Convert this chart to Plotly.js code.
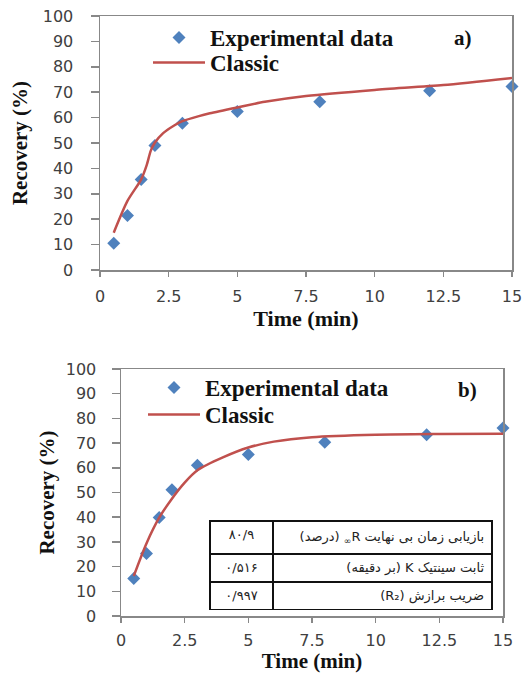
<!DOCTYPE html>
<html>
<head>
<meta charset="utf-8">
<script src="https://cdn.plot.ly/plotly-3.0.1.min.js"></script>
<style>html,body{margin:0;padding:0;background:#fff;}#chart{width:525px;height:673px;}</style>
</head>
<body>
<div id="chart"></div>
<script>
// ---- data (a) ----
const timeA = [0.5, 1, 1.5, 2, 3, 5, 8, 12, 15];
const recA = [10.5, 21.5, 35.6, 49, 57.8, 62.4, 66.2, 70.6, 72.2];
const fitTimeA = [0.5, 1, 1.5, 1.7, 1.85, 2, 2.3, 2.7, 3, 3.6, 4, 5, 6, 7.5, 10, 12.5, 15];
const fitA = [14.7, 27.2, 35.7, 41.3, 47.0, 50.2, 53.9, 56.9, 58.6, 60.6, 61.7, 64, 66.2, 68.5, 70.9, 72.8, 75.6];
// ---- data (b) ----
const timeB = [0.5, 1, 1.5, 2, 3, 5, 8, 12, 15];
const recB = [15.2, 25.3, 39.9, 51.1, 61, 65.4, 70.3, 73.4, 76.1];
const fitTimeB = [0.5, 1, 1.5, 2, 2.5, 3, 4, 5, 6, 7.5, 10, 12.5, 15];
const fitB = [16.2, 29.4, 39.8, 47.5, 54, 59, 64.2, 68.2, 70.6, 72.4, 73.4, 73.7, 73.8];
// ---- labels ----
const seriesNames = ['Experimental data', 'Classic'];
const panelLabels = ['a)', 'b)'];
const xTitle = 'Time (min)';
const yTitle = 'Recovery (%)';
// ---- table (b) ----
const RLE = '\u202B', PDF = '\u202C';
const tableLabels = [
  RLE + 'بازیابی زمان بی نهایت R<sub>∞</sub> (درصد)' + PDF,
  RLE + 'ثابت سینتیک K (بر دقیقه)' + PDF,
  RLE + 'ضریب برازش (R₂)' + PDF
];
const tableValues = ['۸۰/۹', '۰/۵۱۶', '۰/۹۹۷'];

const W = 525, H = 673;
const px = v => v / W, py = v => (H - v) / H;

const blue = '#4F81BD', red = '#C0504D';
const serif = '"Liberation Serif", "Times New Roman", Times, "DejaVu Serif", serif';
const titleFont = {family: serif, size: 22, color: '#111', weight: 'bold'};
const titleFont2 = {family: serif, size: 21, color: '#111', weight: 'bold'};
const yTitleFont = {family: serif, size: 21, color: '#111', weight: 'bold'};
const tickFont = {family: '"DejaVu Sans", Verdana, sans-serif', size: 16, color: '#404040'};
const legendFont = {family: serif, size: 23, color: '#111', weight: 'bold'};
const tableFont = {family: '"DejaVu Sans", sans-serif', size: 13, color: '#222'};

const traces = [
  {x: timeA, y: recA, type: 'scatter', mode: 'markers', name: seriesNames[0], cliponaxis: false,
   marker: {symbol: 'diamond', size: 10, color: blue}, xaxis: 'x', yaxis: 'y', legend: 'legend'},
  {x: fitTimeA, y: fitA, type: 'scatter', mode: 'lines', name: seriesNames[1], cliponaxis: false,
   line: {color: red, width: 2.5, shape: 'spline', smoothing: 0.7}, xaxis: 'x', yaxis: 'y', legend: 'legend2'},
  {x: timeB, y: recB, type: 'scatter', mode: 'markers', name: seriesNames[0], cliponaxis: false,
   marker: {symbol: 'diamond', size: 10, color: blue}, xaxis: 'x2', yaxis: 'y2', legend: 'legend3'},
  {x: fitTimeB, y: fitB, type: 'scatter', mode: 'lines', name: seriesNames[1], cliponaxis: false,
   line: {color: red, width: 2.5, shape: 'spline', smoothing: 0.8}, xaxis: 'x2', yaxis: 'y2', legend: 'legend4'},
  {type: 'table',
   domain: {x: [px(210), px(492)], y: [py(610), py(521)]},
   columnwidth: [63, 219],
   header: {values: [tableValues[0], tableLabels[0]], height: 33, align: ['center', 'right'],
            line: {color: '#111', width: 1.5}, fill: {color: '#fff'}, font: tableFont},
   cells: {values: [tableValues.slice(1), tableLabels.slice(1)], height: 28, align: ['center', 'right'],
           line: {color: '#111', width: 1.5}, fill: {color: '#fff'}, font: tableFont}
  }
];

function xax(domain, standoff, labelGap, tfont) {
  return {domain: domain, range: [0, 15], tick0: 0, dtick: 2.5, ticks: 'outside', ticklen: 5,
    tickcolor: '#888', tickwidth: 1.5, linecolor: '#888', linewidth: 1.5, mirror: true,
    showgrid: false, zeroline: false, tickfont: tickFont, ticklabelstandoff: labelGap, fixedrange: true,
    title: {text: xTitle, font: tfont, standoff: standoff}};
}
function yax(domain, standoff, labelGap) {
  return {domain: domain, range: [0, 100], tick0: 0, dtick: 10, ticks: 'outside', ticklen: 8,
    tickcolor: '#888', tickwidth: 1.5, linecolor: '#888', linewidth: 1.5, mirror: true,
    showgrid: false, zeroline: false, tickfont: tickFont, ticklabelstandoff: labelGap, fixedrange: true,
    title: {text: yTitle, font: yTitleFont, standoff: standoff}};
}
function leg(x, y) {
  return {x: px(x), y: py(y), xanchor: 'left', yanchor: 'top', bgcolor: 'rgba(0,0,0,0)',
          font: legendFont, itemwidth: 52};
}

const layout = {
  width: W, height: H, margin: {l: 0, r: 0, t: 0, b: 0},
  paper_bgcolor: '#fff', plot_bgcolor: '#fff', showlegend: true,
  font: {family: serif},
  xaxis: xax([px(100), px(512)], 4, 6, titleFont), yaxis: yax([py(270), py(16)], 9, 14),
  xaxis2: Object.assign(xax([px(121), px(503)], 10, 4, titleFont2), {anchor: 'y2'}),
  yaxis2: Object.assign(yax([py(616), py(369)], 5, 12), {anchor: 'x2'}),
  legend: leg(148, 16), legend2: leg(148, 41),
  legend3: leg(143, 366), legend4: leg(143, 393),
  annotations: [
    {text: panelLabels[0], xref: 'paper', yref: 'paper', x: px(463), y: py(38), xanchor: 'center', yanchor: 'middle', showarrow: false,
     font: {family: serif, size: 21, color: '#111', weight: 'bold'}},
    {text: panelLabels[1], xref: 'paper', yref: 'paper', x: px(467), y: py(390), xanchor: 'center', yanchor: 'middle', showarrow: false,
     font: {family: serif, size: 21, color: '#111', weight: 'bold'}}
  ]
};

Plotly.newPlot('chart', traces, layout, {displayModeBar: false, staticPlot: true});
</script>
</body>
</html>
